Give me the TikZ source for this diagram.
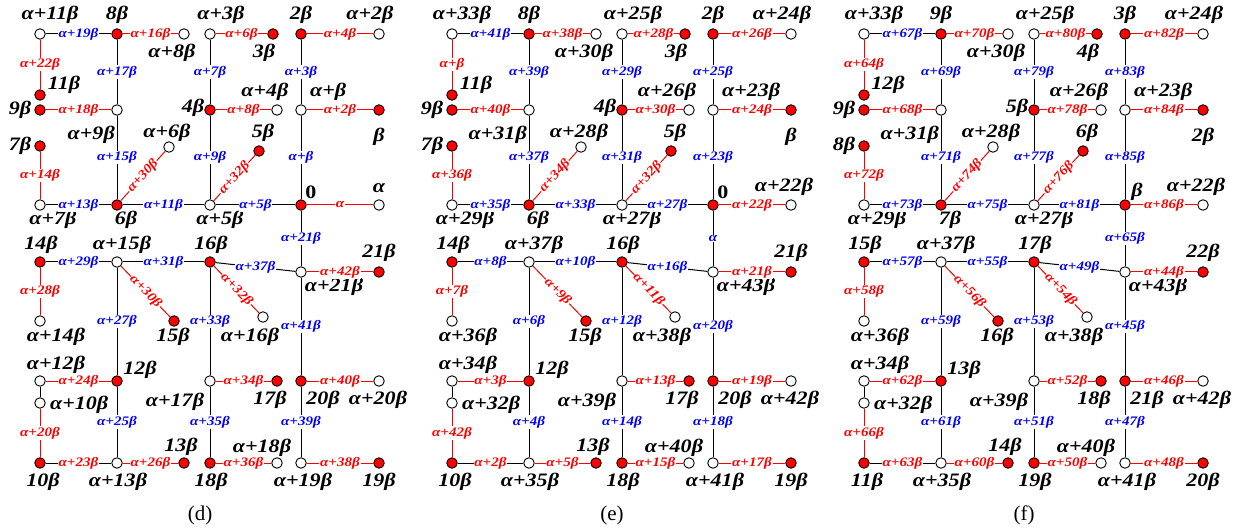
\documentclass[tikz,border=0pt]{standalone}
\usepackage{fontspec}
\usepackage{tikz}
\newfontfamily\labfont[FakeStretch=1.16]{Liberation Serif}
\newfontfamily\capfont{Liberation Serif}
\definecolor{DotRed}{HTML}{FF0000}
\definecolor{LabBlue}{HTML}{0000FF}
% the 44 dots are the same in all three panels
\newcommand{\dotgrid}{%
\node[wdot] (a11) at (40,34) {}; \node[rdot] (b8) at (117,34) {}; \node[wdot] (a8) at (184,34) {};
\node[wdot] (a3) at (210,34) {}; \node[rdot] (b3) at (273,34) {}; \node[rdot] (b2) at (301,34) {}; \node[wdot] (a2) at (379,34) {};
\node[rdot] (b11) at (40,95) {};
\node[rdot] (b9) at (40,110) {}; \node[wdot] (a9) at (117,110) {}; \node[rdot] (b4) at (210,110) {};
\node[wdot] (a4) at (277,110) {}; \node[wdot] (a1) at (301,110) {}; \node[rdot] (b1) at (379,110) {};
\node[rdot] (b7) at (40,146) {}; \node[wdot] (a6) at (169,147) {}; \node[rdot] (b5) at (259,151) {};
\node[wdot] (a7) at (40,205) {}; \node[rdot] (b6) at (117,205) {}; \node[wdot] (a5) at (210,205) {};
\node[rdot] (b0) at (301,205) {}; \node[wdot] (a0) at (379,205) {};
\node[rdot] (b14) at (40,262) {}; \node[wdot] (a15) at (117,262) {}; \node[rdot] (b16) at (210,262) {};
\node[wdot] (a21) at (301,272) {}; \node[rdot] (b21) at (379,272) {};
\node[wdot] (a14) at (40,321) {}; \node[rdot] (b15) at (174,321) {}; \node[wdot] (a16) at (263,317) {};
\node[wdot] (a12) at (40,381) {}; \node[rdot] (b12) at (117,381) {}; \node[wdot] (a17) at (210,381) {};
\node[rdot] (b17) at (277,381) {}; \node[rdot] (b20) at (301,381) {}; \node[wdot] (a20) at (379,381) {};
\node[wdot] (a10) at (40,403) {};
\node[rdot] (b10) at (40,463) {}; \node[wdot] (a13) at (117,463) {}; \node[rdot] (b13) at (184,463) {};
\node[rdot] (b18) at (210,463) {}; \node[wdot] (a18) at (277,463) {}; \node[wdot] (a19) at (301,463) {}; \node[rdot] (b19) at (379,463) {};
}

\begin{document}
\begin{tikzpicture}[x=1pt,y=-1pt,
  wdot/.style={circle,draw,fill=white,inner sep=0pt,minimum size=10.5pt,line width=0.9pt},
  rdot/.style={wdot,fill=DotRed},
  nlab/.style={inner sep=0pt,font=\labfont\bfseries\itshape\fontsize{19}{19}\selectfont},
  elab/.style={fill=white,inner sep=0.7pt,font=\labfont\bfseries\itshape\fontsize{13}{13}\selectfont},
  blab/.style={elab,text=LabBlue},
  rlab/.style={elab,text=DotRed},
  bk/.style={line width=1pt},
  rd/.style={line width=1pt,draw=DotRed},
  captext/.style={inner sep=0pt,font=\capfont\fontsize{21}{21}\selectfont}]
\useasboundingbox (0,0) rectangle (1245,529);

%% panel (d)
\begin{scope}[name prefix=d-]
\dotgrid
\node[nlab] (la11) at (50,15) {α+11β}; \node[nlab] (lb8) at (117,15) {8β}; \node[nlab] (la3) at (221,15) {α+3β};
\node[nlab] (lb2) at (301,15) {2β}; \node[nlab] (la2) at (370,15) {α+2β};
\node[nlab] (la8) at (172,53) {α+8β}; \node[nlab] (lb3) at (264,53) {3β}; \node[nlab] (lb11) at (64,85) {11β};
\node[nlab] (lb9) at (20,110) {9β}; \node[nlab,anchor=east] (la9) at (115,135) {α+9β}; \node[nlab] (lb4) at (193,108) {4β};
\node[nlab] (la4) at (265,92) {α+4β}; \node[nlab,anchor=west] (la1) at (310,92) {α+β}; \node[nlab] (lb1) at (379,137) {β};
\node[nlab] (lb5) at (263,133) {5β}; \node[nlab] (lb7) at (20,146) {7β}; \node[nlab] (la6) at (167,133) {α+6β};
\node[nlab] (la7) at (53,220) {α+7β}; \node[nlab] (lb6) at (126,220) {6β}; \node[nlab] (la5) at (220,220) {α+5β};
\node[nlab] (lb0) at (311,192) {\upshape 0}; \node[nlab] (la0) at (379,188) {α};
\node[nlab] (lb14) at (41,245) {14β}; \node[nlab] (la15) at (122,245) {α+15β}; \node[nlab] (lb16) at (211,245) {16β};
\node[nlab] (lb21) at (379,253) {21β}; \node[nlab] (la21) at (334,287) {α+21β};
\node[nlab] (lb15) at (173,337) {15β}; \node[nlab] (la14) at (56,337) {α+14β}; \node[nlab] (la16) at (250,337) {α+16β};
\node[nlab] (la12) at (56,365) {α+12β}; \node[nlab] (lb12) at (140,370) {12β}; \node[nlab,anchor=west] (la10) at (50,405) {α+10β};
\node[nlab] (la17) at (175,402) {α+17β}; \node[nlab] (lb17) at (270,400) {17β}; \node[nlab] (lb20) at (323,400) {20β};
\node[nlab] (la20) at (378,400) {α+20β}; \node[nlab] (lb13) at (181,447) {13β}; \node[nlab] (la18) at (262,448) {α+18β};
\node[nlab] (lb10) at (43,482) {10β}; \node[nlab] (la13) at (118,482) {α+13β}; \node[nlab] (lb18) at (211,482) {18β};
\node[nlab] (la19) at (303,482) {α+19β}; \node[nlab] (lb19) at (379,482) {19β};
\draw[bk] (a11) -- node[blab]{α+19β} (b8); \draw[rd] (b8) -- node[rlab]{α+16β} (a8);
\draw[rd] (a11) -- node[rlab]{α+22β} (b11); \draw[rd] (b9) -- node[rlab]{α+18β} (a9);
\draw[bk] (b8) -- node[blab]{α+17β} (a9); \draw[bk] (a9) -- node[blab]{α+15β} (b6);
\draw[rd] (b7) -- node[rlab]{α+14β} (a7); \draw[bk] (a7) -- node[blab]{α+13β} (b6);
\draw[rd] (b6) -- node[rlab,sloped]{α+30β} (a6); \draw[bk] (b6) -- node[blab]{α+11β} (a5);
\draw[rd] (a3) -- node[rlab]{α+6β} (b3); \draw[rd] (b2) -- node[rlab]{α+4β} (a2);
\draw[bk] (a3) -- node[blab]{α+7β} (b4); \draw[rd] (b4) -- node[rlab]{α+8β} (a4);
\draw[bk] (b4) -- node[blab]{α+9β} (a5); \draw[rd] (a5) -- node[rlab,sloped]{α+32β} (b5);
\draw[bk] (b2) -- node[blab]{α+3β} (a1); \draw[rd] (a1) -- node[rlab]{α+2β} (b1);
\draw[bk] (a1) -- node[blab]{α+β} (b0); \draw[bk] (a5) -- node[blab]{α+5β} (b0);
\draw[rd] (b0) -- node[rlab]{α} (a0); \draw[bk] (b0) -- node[blab]{α+21β} (a21);
\draw[bk] (b14) -- node[blab]{α+29β} (a15); \draw[bk] (a15) -- node[blab]{α+31β} (b16);
\draw[rd] (a15) -- node[rlab,sloped]{α+30β} (b15); \draw[rd] (b14) -- node[rlab]{α+28β} (a14);
\draw[bk] (a15) -- node[blab]{α+27β} (b12); \draw[rd] (a12) -- node[rlab]{α+24β} (b12);
\draw[bk] (a12) -- (a10); \draw[rd] (a10) -- node[rlab]{α+20β} (b10);
\draw[bk] (b12) -- node[blab]{α+25β} (a13); \draw[bk] (b10) -- node[rlab]{α+23β} (a13);
\draw[rd] (a13) -- node[rlab]{α+26β} (b13); \draw[bk] (b16) -- node[blab]{α+37β} (a21);
\draw[rd] (b16) -- node[rlab,sloped]{α+32β} (a16); \draw[bk] (b16) -- node[blab]{α+33β} (a17);
\draw[rd] (a21) -- node[rlab]{α+42β} (b21); \draw[bk] (a21) -- node[blab]{α+41β} (b20);
\draw[rd] (a17) -- node[rlab]{α+34β} (b17); \draw[rd] (b20) -- node[rlab]{α+40β} (a20);
\draw[bk] (a17) -- node[blab]{α+35β} (b18); \draw[rd] (b18) -- node[rlab]{α+36β} (a18);
\draw[bk] (b20) -- node[blab]{α+39β} (a19); \draw[rd] (a19) -- node[rlab]{α+38β} (b19);
\node[captext] (cap) at (200,515) {(d)};
\end{scope}

%% panel (e)
\begin{scope}[shift={(412,0)},name prefix=e-]
\dotgrid
\node[nlab] (la11) at (50,15) {α+33β}; \node[nlab] (lb8) at (117,15) {8β}; \node[nlab] (la3) at (221,15) {α+25β};
\node[nlab] (lb2) at (301,15) {2β}; \node[nlab] (la2) at (370,15) {α+24β};
\node[nlab] (la8) at (172,53) {α+30β}; \node[nlab] (lb3) at (264,53) {3β}; \node[nlab] (lb11) at (64,85) {11β};
\node[nlab] (lb9) at (20,110) {9β}; \node[nlab,anchor=east] (la9) at (115,135) {α+31β}; \node[nlab] (lb4) at (193,108) {4β};
\node[nlab] (la4) at (255,92) {α+26β}; \node[nlab,anchor=west] (la1) at (310,92) {α+23β}; \node[nlab] (lb1) at (379,137) {β};
\node[nlab] (lb5) at (263,133) {5β}; \node[nlab] (lb7) at (20,146) {7β}; \node[nlab] (la6) at (167,133) {α+28β};
\node[nlab] (la7) at (53,220) {α+29β}; \node[nlab] (lb6) at (126,220) {6β}; \node[nlab] (la5) at (220,220) {α+27β};
\node[nlab] (lb0) at (311,192) {\upshape 0}; \node[nlab] (la0) at (372,187) {α+22β};
\node[nlab] (lb14) at (41,245) {14β}; \node[nlab] (la15) at (122,245) {α+37β}; \node[nlab] (lb16) at (211,245) {16β};
\node[nlab] (lb21) at (379,253) {21β}; \node[nlab] (la21) at (334,287) {α+43β};
\node[nlab] (lb15) at (173,337) {15β}; \node[nlab] (la14) at (56,337) {α+36β}; \node[nlab] (la16) at (250,337) {α+38β};
\node[nlab] (la12) at (56,365) {α+34β}; \node[nlab] (lb12) at (140,370) {12β}; \node[nlab,anchor=west] (la10) at (50,405) {α+32β};
\node[nlab] (la17) at (175,402) {α+39β}; \node[nlab] (lb17) at (270,400) {17β}; \node[nlab] (lb20) at (323,400) {20β};
\node[nlab] (la20) at (378,400) {α+42β}; \node[nlab] (lb13) at (181,447) {13β}; \node[nlab] (la18) at (262,448) {α+40β};
\node[nlab] (lb10) at (43,482) {10β}; \node[nlab] (la13) at (118,482) {α+35β}; \node[nlab] (lb18) at (211,482) {18β};
\node[nlab] (la19) at (303,482) {α+41β}; \node[nlab] (lb19) at (379,482) {19β};
\draw[bk] (a11) -- node[blab]{α+41β} (b8); \draw[rd] (b8) -- node[rlab]{α+38β} (a8);
\draw[rd] (a11) -- node[rlab]{α+β} (b11); \draw[rd] (b9) -- node[rlab]{α+40β} (a9);
\draw[bk] (b8) -- node[blab]{α+39β} (a9); \draw[bk] (a9) -- node[blab]{α+37β} (b6);
\draw[rd] (b7) -- node[rlab]{α+36β} (a7); \draw[bk] (a7) -- node[blab]{α+35β} (b6);
\draw[rd] (b6) -- node[rlab,sloped]{α+34β} (a6); \draw[bk] (b6) -- node[blab]{α+33β} (a5);
\draw[rd] (a3) -- node[rlab]{α+28β} (b3); \draw[rd] (b2) -- node[rlab]{α+26β} (a2);
\draw[bk] (a3) -- node[blab]{α+29β} (b4); \draw[rd] (b4) -- node[rlab]{α+30β} (a4);
\draw[bk] (b4) -- node[blab]{α+31β} (a5); \draw[rd] (a5) -- node[rlab,sloped]{α+32β} (b5);
\draw[bk] (b2) -- node[blab]{α+25β} (a1); \draw[rd] (a1) -- node[rlab]{α+24β} (b1);
\draw[bk] (a1) -- node[blab]{α+23β} (b0); \draw[bk] (a5) -- node[blab]{α+27β} (b0);
\draw[rd] (b0) -- node[rlab]{α+22β} (a0); \draw[bk] (b0) -- node[blab]{α} (a21);
\draw[bk] (b14) -- node[blab]{α+8β} (a15); \draw[bk] (a15) -- node[blab]{α+10β} (b16);
\draw[rd] (a15) -- node[rlab,sloped]{α+9β} (b15); \draw[rd] (b14) -- node[rlab]{α+7β} (a14);
\draw[bk] (a15) -- node[blab]{α+6β} (b12); \draw[rd] (a12) -- node[rlab]{α+3β} (b12);
\draw[bk] (a12) -- (a10); \draw[rd] (a10) -- node[rlab]{α+42β} (b10);
\draw[bk] (b12) -- node[blab]{α+4β} (a13); \draw[bk] (b10) -- node[rlab]{α+2β} (a13);
\draw[rd] (a13) -- node[rlab]{α+5β} (b13); \draw[bk] (b16) -- node[blab]{α+16β} (a21);
\draw[rd] (b16) -- node[rlab,sloped]{α+11β} (a16); \draw[bk] (b16) -- node[blab]{α+12β} (a17);
\draw[rd] (a21) -- node[rlab]{α+21β} (b21); \draw[bk] (a21) -- node[blab]{α+20β} (b20);
\draw[rd] (a17) -- node[rlab]{α+13β} (b17); \draw[rd] (b20) -- node[rlab]{α+19β} (a20);
\draw[bk] (a17) -- node[blab]{α+14β} (b18); \draw[rd] (b18) -- node[rlab]{α+15β} (a18);
\draw[bk] (b20) -- node[blab]{α+18β} (a19); \draw[rd] (a19) -- node[rlab]{α+17β} (b19);
\node[captext] (cap) at (200,515) {(e)};
\end{scope}

%% panel (f)
\begin{scope}[shift={(824,0)},name prefix=f-]
\dotgrid
\node[nlab] (la11) at (50,15) {α+33β}; \node[nlab] (lb8) at (117,15) {9β}; \node[nlab] (la3) at (221,15) {α+25β};
\node[nlab] (lb2) at (301,15) {3β}; \node[nlab] (la2) at (370,15) {α+24β};
\node[nlab] (la8) at (172,53) {α+30β}; \node[nlab] (lb3) at (264,53) {4β}; \node[nlab] (lb11) at (64,85) {12β};
\node[nlab] (lb9) at (20,110) {9β}; \node[nlab,anchor=east] (la9) at (115,135) {α+31β}; \node[nlab] (lb4) at (193,108) {5β};
\node[nlab] (la4) at (255,92) {α+26β}; \node[nlab,anchor=west] (la1) at (310,92) {α+23β}; \node[nlab] (lb1) at (379,137) {2β};
\node[nlab] (lb5) at (263,133) {6β}; \node[nlab] (lb7) at (20,146) {8β}; \node[nlab] (la6) at (167,133) {α+28β};
\node[nlab] (la7) at (53,220) {α+29β}; \node[nlab] (lb6) at (126,220) {7β}; \node[nlab] (la5) at (220,220) {α+27β};
\node[nlab] (lb0) at (313,192) {β}; \node[nlab] (la0) at (372,187) {α+22β};
\node[nlab] (lb14) at (41,245) {15β}; \node[nlab] (la15) at (122,245) {α+37β}; \node[nlab] (lb16) at (211,245) {17β};
\node[nlab] (lb21) at (379,253) {22β}; \node[nlab] (la21) at (334,287) {α+43β};
\node[nlab] (lb15) at (173,337) {16β}; \node[nlab] (la14) at (56,337) {α+36β}; \node[nlab] (la16) at (250,337) {α+38β};
\node[nlab] (la12) at (56,365) {α+34β}; \node[nlab] (lb12) at (140,370) {13β}; \node[nlab,anchor=west] (la10) at (50,405) {α+32β};
\node[nlab] (la17) at (175,402) {α+39β}; \node[nlab] (lb17) at (270,400) {18β}; \node[nlab] (lb20) at (323,400) {21β};
\node[nlab] (la20) at (378,400) {α+42β}; \node[nlab] (lb13) at (181,447) {14β}; \node[nlab] (la18) at (262,448) {α+40β};
\node[nlab] (lb10) at (43,482) {11β}; \node[nlab] (la13) at (118,482) {α+35β}; \node[nlab] (lb18) at (211,482) {19β};
\node[nlab] (la19) at (303,482) {α+41β}; \node[nlab] (lb19) at (379,482) {20β};
\draw[bk] (a11) -- node[blab]{α+67β} (b8); \draw[rd] (b8) -- node[rlab]{α+70β} (a8);
\draw[rd] (a11) -- node[rlab]{α+64β} (b11); \draw[rd] (b9) -- node[rlab]{α+68β} (a9);
\draw[bk] (b8) -- node[blab]{α+69β} (a9); \draw[bk] (a9) -- node[blab]{α+71β} (b6);
\draw[rd] (b7) -- node[rlab]{α+72β} (a7); \draw[bk] (a7) -- node[blab]{α+73β} (b6);
\draw[rd] (b6) -- node[rlab,sloped]{α+74β} (a6); \draw[bk] (b6) -- node[blab]{α+75β} (a5);
\draw[rd] (a3) -- node[rlab]{α+80β} (b3); \draw[rd] (b2) -- node[rlab]{α+82β} (a2);
\draw[bk] (a3) -- node[blab]{α+79β} (b4); \draw[rd] (b4) -- node[rlab]{α+78β} (a4);
\draw[bk] (b4) -- node[blab]{α+77β} (a5); \draw[rd] (a5) -- node[rlab,sloped]{α+76β} (b5);
\draw[bk] (b2) -- node[blab]{α+83β} (a1); \draw[rd] (a1) -- node[rlab]{α+84β} (b1);
\draw[bk] (a1) -- node[blab]{α+85β} (b0); \draw[bk] (a5) -- node[blab]{α+81β} (b0);
\draw[rd] (b0) -- node[rlab]{α+86β} (a0); \draw[bk] (b0) -- node[blab]{α+65β} (a21);
\draw[bk] (b14) -- node[blab]{α+57β} (a15); \draw[bk] (a15) -- node[blab]{α+55β} (b16);
\draw[rd] (a15) -- node[rlab,sloped]{α+56β} (b15); \draw[rd] (b14) -- node[rlab]{α+58β} (a14);
\draw[bk] (a15) -- node[blab]{α+59β} (b12); \draw[rd] (a12) -- node[rlab]{α+62β} (b12);
\draw[bk] (a12) -- (a10); \draw[rd] (a10) -- node[rlab]{α+66β} (b10);
\draw[bk] (b12) -- node[blab]{α+61β} (a13); \draw[bk] (b10) -- node[rlab]{α+63β} (a13);
\draw[rd] (a13) -- node[rlab]{α+60β} (b13); \draw[bk] (b16) -- node[blab]{α+49β} (a21);
\draw[rd] (b16) -- node[rlab,sloped]{α+54β} (a16); \draw[bk] (b16) -- node[blab]{α+53β} (a17);
\draw[rd] (a21) -- node[rlab]{α+44β} (b21); \draw[bk] (a21) -- node[blab]{α+45β} (b20);
\draw[rd] (a17) -- node[rlab]{α+52β} (b17); \draw[rd] (b20) -- node[rlab]{α+46β} (a20);
\draw[bk] (a17) -- node[blab]{α+51β} (b18); \draw[rd] (b18) -- node[rlab]{α+50β} (a18);
\draw[bk] (b20) -- node[blab]{α+47β} (a19); \draw[rd] (a19) -- node[rlab]{α+48β} (b19);
\node[captext] (cap) at (200,515) {(f)};
\end{scope}
\end{tikzpicture}
\end{document}
